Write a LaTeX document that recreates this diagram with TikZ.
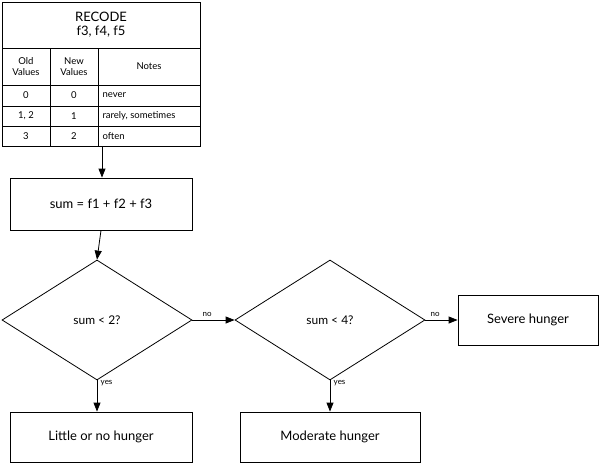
\documentclass[tikz,border=0pt]{standalone}
\usepackage{fontspec}
\setmainfont{Lato}
\usetikzlibrary{shapes.geometric,arrows.meta}
\begin{document}
\begin{tikzpicture}[x=1pt,y=-1pt,
  box/.style={draw,thick,minimum width=182pt,minimum height=52pt,font=\fontsize{13}{15}\selectfont},
  dia/.style={draw,thick,diamond,aspect=1.55,minimum width=190pt,minimum height=120pt,inner sep=0,font=\fontsize{12}{14}\selectfont},
  arr/.style={thick,-{Triangle[length=9pt,width=7pt]}},
  lab/.style={font=\fontsize{8}{9}\selectfont}]
\useasboundingbox (0,0) rectangle (603,463);
% table
\begin{scope}[thick]
\draw (2,2) rectangle (200,146);
\draw (2,48) -- (200,48) (2,85)--(200,85) (2,106)--(200,106) (2,126)--(200,126);
\draw (50,48)--(50,146) (98,48)--(98,146);
\end{scope}
\node[align=center,font=\fontsize{13}{14}\selectfont] (rec) at (101,25) {RECODE\\f3, f4, f5};
\begin{scope}[font=\fontsize{9.5}{11}\selectfont]
\node[align=center] (h1) at (26,66.5) {Old\\Values};
\node[align=center] (h2) at (74,66.5) {New\\Values};
\node (h3) at (149,66.5) {Notes};
\node (a1) at (26,95.5) {0}; \node (b1) at (74,95.5) {0}; \node[anchor=west] (c1) at (99,95.5) {never};
\node (a2) at (26,116) {1, 2}; \node (b2) at (74,116) {1}; \node[anchor=west] (c2) at (99,116) {rarely, sometimes};
\node (a3) at (26,136) {3}; \node (b3) at (74,136) {2}; \node[anchor=west] (c3) at (99,136) {often};
\end{scope}
\coordinate (tb) at (102,146);
\node[box] (sum) at (101,204) {sum = f1 + f2 + f3};
\node[dia] (d1) at (97,320) {sum < 2?};
\node[dia] (d2) at (330,320) {sum < 4?};
\node[box,minimum width=140pt,minimum height=50pt] (sev) at (528,320) {Severe hunger};
\node[box,minimum height=50pt] (lit) at (101,437) {Little or no hunger};
\node[box,minimum width=180pt,minimum height=50pt] (mod) at (330,437) {Moderate hunger};
\draw[arr] (tb) -- (tb|-sum.north);
\draw[arr] (sum.south) -- (d1.north);
\draw[arr] (d1.east) -- node[lab,above,pos=0.35]{no} (d2.west);
\draw[arr] (d2.east) -- node[lab,above,pos=0.3]{no} (sev.west);
\draw[arr] (d1.south) -- node[lab,right,pos=0.1]{yes} (lit.north-|d1.south);
\draw[arr] (d2.south) -- node[lab,right,pos=0.1]{yes} (mod.north);
\end{tikzpicture}
\end{document}
